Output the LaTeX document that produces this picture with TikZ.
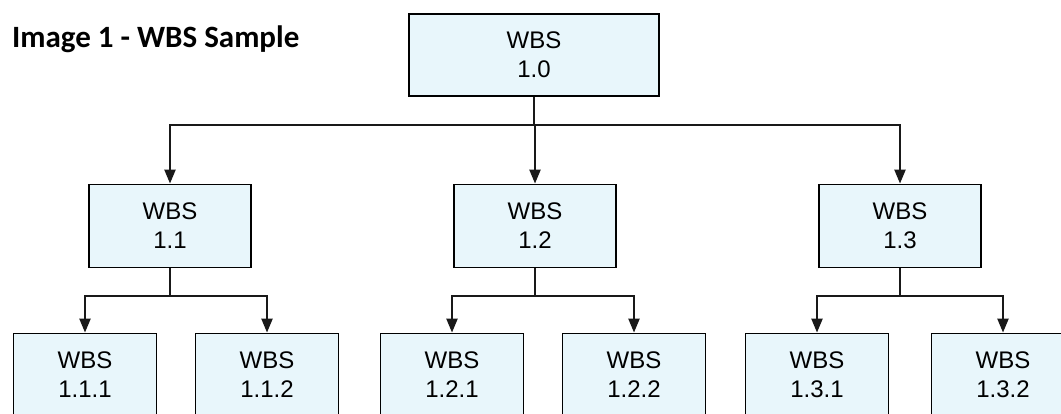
\documentclass[tikz,border=0pt]{standalone}
\usepackage{fontspec}
\setmainfont{Liberation Sans}
\newfontfamily\titlefont{Carlito}
\usetikzlibrary{arrows.meta}
\definecolor{boxfill}{HTML}{E8F6FB}
\tikzset{
  wbsbox/.style={rectangle, draw=black, line width=1.8pt, fill=boxfill, minimum width=162pt, minimum height=83pt, inner sep=0pt, align=center, font=\fontsize{24}{29}\selectfont},
  subbox/.style={wbsbox, minimum width=143pt},
  bar/.style={draw=black!90, line width=2.2pt},
  link/.style={bar, -{Triangle[length=14pt,width=11pt]}}
}

\begin{document}
\begin{tikzpicture}[x=1pt, y=-1pt]
\useasboundingbox (0,0) rectangle (1061,413);
\clip (0,0) rectangle (1061,413);

% title
\node[anchor=base west, inner sep=0pt, font=\titlefont\bfseries\fontsize{31}{36}\selectfont] (T) at (12,47) {Image 1 - WBS Sample};

% top level
\node[wbsbox, minimum width=250pt, minimum height=82pt] (W0) at (534,55) {WBS\\1.0};

% second level
\node[wbsbox] (W1) at (170,226) {WBS\\1.1};
\node[wbsbox] (W2) at (535,226) {WBS\\1.2};
\node[wbsbox] (W3) at (900,226) {WBS\\1.3};

% third level (cut at the bottom edge)
\node[subbox] (W11) at (85,375) {WBS\\1.1.1};
\node[subbox] (W12) at (267,375) {WBS\\1.1.2};
\node[subbox] (W21) at (452,375) {WBS\\1.2.1};
\node[subbox] (W22) at (634,375) {WBS\\1.2.2};
\node[subbox] (W31) at (817,375) {WBS\\1.3.1};
\node[subbox] (W32) at (1003,375) {WBS\\1.3.2};

% connectors
\coordinate (J0) at (W2.north |- 0,125);
\draw[bar] (W0.south) -- (W0.south |- J0);
\draw[link] (J0) -| (W1.north);
\draw[link] (J0) -- (W2.north);
\draw[link] (J0) -| (W3.north);

\foreach \p/\a/\b in {W1/W11/W12, W2/W21/W22, W3/W31/W32} {
  \coordinate (J\p) at (\p.south |- 0,296);
  \draw[bar] (\p.south) -- (J\p);
  \draw[link] (J\p) -| (\a.north);
  \draw[link] (J\p) -| (\b.north);
}
\end{tikzpicture}
\end{document}
